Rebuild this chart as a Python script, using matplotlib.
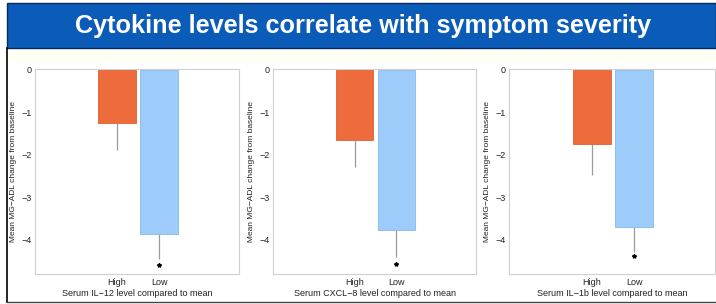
import matplotlib
matplotlib.use("Agg")
import matplotlib.pyplot as plt
from matplotlib.patches import Rectangle
from matplotlib.lines import Line2D

plt.rcParams['font.family'] = ['Liberation Sans', 'DejaVu Sans']

title = "Cytokine levels correlate with symptom severity"
categories = ["High", "Low"]
xlabels = ["Serum IL\u221212 level compared to mean",
           "Serum CXCL\u22128 level compared to mean",
           "Serum IL\u22121b level compared to mean"]
ylabel = "Mean MG\u2212ADL change from baseline"
means = [[-1.25, -3.86], [-1.65, -3.76], [-1.74, -3.69]]
err_low = [[0.63, 0.59], [0.63, 0.64], [0.73, 0.59]]
sig_y = [-4.59, -4.56, -4.38]
yticks = [0, -1, -2, -3, -4]
colors = ["#ee6b3b", "#9dcbfa"]
edgecolors = ["#e0602f", "#86b8ec"]

W, H = 716, 304
fig = plt.figure(figsize=(W / 100, H / 100), dpi=100)
fig.patch.set_facecolor("white")

# Title band
fig.patches.append(Rectangle((7 / W, 1 - 48 / H), (W - 7) / W, 45 / H,
                             transform=fig.transFigure, facecolor="#0b5cb9",
                             edgecolor="#0a2a5a", linewidth=1.0, zorder=0))
fig.text(0.507, 1 - 25.5 / H, title, color="white", fontsize=18.2,
         fontweight="bold", ha="center", va="center")
# pale band under title
fig.patches.append(Rectangle((8 / W, 1 - 62 / H), (W - 8) / W, 11 / H,
                             transform=fig.transFigure, facecolor="#fffff4",
                             edgecolor="none", zorder=0))
# frame lines
fig.add_artist(Line2D([7 / W, 7 / W], [1 - 48 / H, 1 - 302 / H], color="black", lw=1.2,
                      transform=fig.transFigure))
fig.add_artist(Line2D([7 / W, 1], [1 - 302 / H, 1 - 302 / H], color="#444444", lw=1.0,
                      transform=fig.transFigure))

panels = [(35, 239), (273, 476), (509, 715)]
top, bottom = 69, 274
for i, (l, r) in enumerate(panels):
    ax = fig.add_axes([l / W, 1 - bottom / H, (r - l) / W, (bottom - top) / H])
    x = list(range(len(categories)))
    ax.bar(x, means[i], width=0.9, color=colors, edgecolor=edgecolors, linewidth=0.6, zorder=2)
    ax.errorbar(x, means[i], yerr=[err_low[i], [0, 0]], fmt="none", ecolor="#9a9a9a",
                elinewidth=0.9, capsize=0, zorder=1)
    ax.plot([1], [sig_y[i]], marker="*", color="black", markersize=3, linestyle="none")
    ax.set_xlim(-1.95, 2.9)
    ax.set_ylim(-4.8, 0.02)
    ax.set_yticks(yticks)
    ax.set_yticklabels([str(v).replace("-", "\u2212") for v in yticks])
    ax.set_xticks(x)
    ax.set_xticklabels(categories)
    ax.tick_params(axis="both", labelsize=6.5, length=0, colors="#222222")
    ax.tick_params(axis="y", pad=2.5)
    ax.tick_params(axis="x", pad=3)
    for s in ax.spines.values():
        s.set_color("#d0d0d0")
        s.set_linewidth(0.8)
    ax.set_ylabel(ylabel, fontsize=6, labelpad=3, color="#222222")
    ax.set_xlabel(xlabels[i], fontsize=6.5, labelpad=1, color="#222222")

fig.savefig("out.png", dpi=100)
